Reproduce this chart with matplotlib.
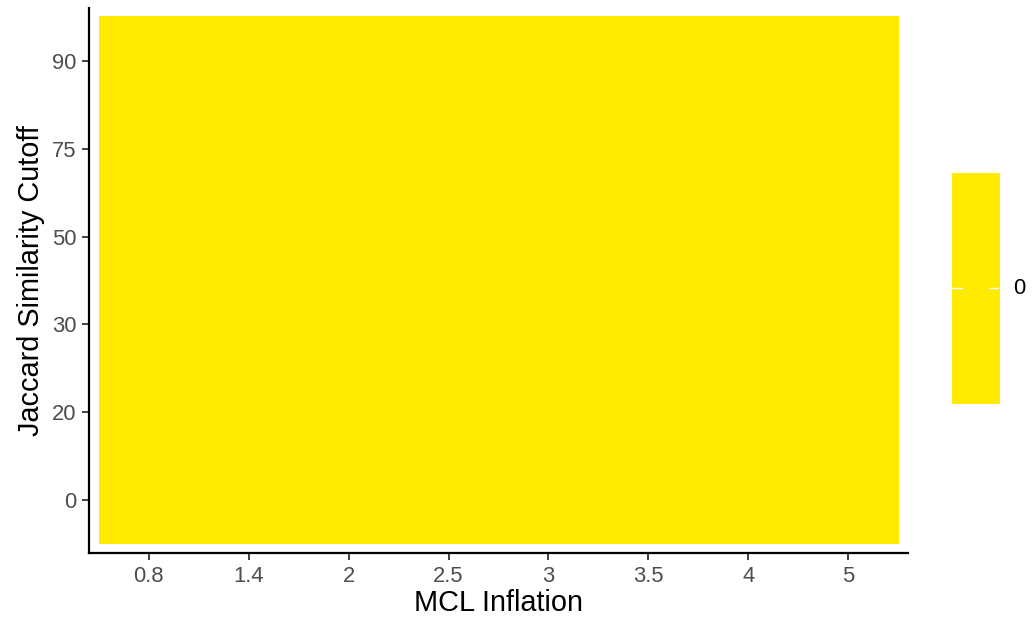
import numpy as np
import matplotlib
matplotlib.use("Agg")
import matplotlib.pyplot as plt
from matplotlib.colors import ListedColormap

# discrete axes of the heatmap
inflation = ["0.8", "1.4", "2", "2.5", "3", "3.5", "4", "5"]
cutoff = ["0", "20", "30", "50", "75", "90"]
# every cell has the same value
values = np.zeros((len(cutoff), len(inflation)))

fill = "#FFEA00"
cmap = ListedColormap([fill])

plt.rcParams['font.family'] = ['Liberation Sans', 'DejaVu Sans']

fig = plt.figure(figsize=(10.35, 6.24), dpi=100)
ax = fig.add_axes([89 / 1035, 1 - 553 / 624, (908 - 89) / 1035, (553 - 8) / 624])

ax.imshow(values, cmap=cmap, vmin=0, vmax=1, origin="lower", aspect="auto",
          extent=(-0.5, len(inflation) - 0.5, -0.5, len(cutoff) - 0.5),
          interpolation="nearest")
ax.set_xlim(-0.6, len(inflation) - 0.4)
ax.set_ylim(-0.6, len(cutoff) - 0.4)

ax.set_xticks(range(len(inflation)))
ax.set_xticklabels(inflation)
ax.set_yticks(range(len(cutoff)))
ax.set_yticklabels(cutoff)

for s in ["top", "right"]:
    ax.spines[s].set_visible(False)
for s in ["left", "bottom"]:
    ax.spines[s].set_linewidth(1.6)
    ax.spines[s].set_color("black")

ax.tick_params(axis="both", length=5, width=1.3, color="#333333",
               labelsize=15.8, labelcolor="#4D4D4D", pad=4)
ax.set_xlabel("MCL Inflation", fontsize=20.8, color="black", labelpad=2)
ax.set_ylabel("Jaccard Similarity Cutoff", fontsize=20.8, color="black", labelpad=5)

# legend colour bar with a single level
cax = fig.add_axes([952 / 1035, 1 - 404 / 624, 47 / 1035, 231 / 624])
cax.imshow([[0], [0]], cmap=cmap, vmin=0, vmax=1, aspect="auto",
           extent=(0, 1, 0, 1))
cax.set_xlim(0, 1)
cax.set_ylim(0, 1)
for s in cax.spines.values():
    s.set_visible(False)
cax.set_xticks([])
cax.set_yticks([])
tick_y = (404 - 288) / 231
cax.plot([0, 0.21], [tick_y, tick_y], color="white", lw=1.0)
cax.plot([0.79, 1], [tick_y, tick_y], color="white", lw=1.0)
cax.text(1.3, tick_y, "0", transform=cax.transAxes, va="center", ha="left",
         fontsize=15.8, color="black")

fig.savefig("out.png", dpi=100)
